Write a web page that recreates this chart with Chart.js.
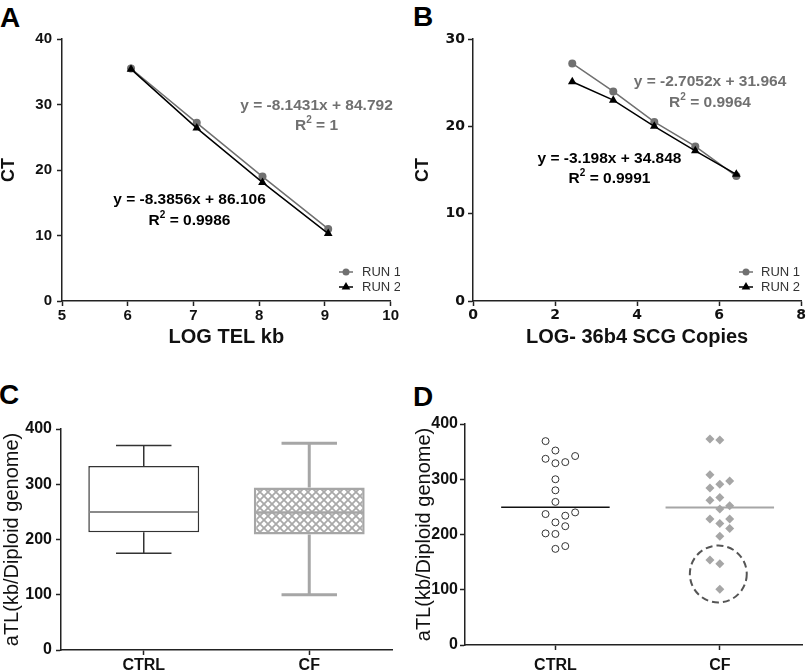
<!DOCTYPE html>
<html>
<head>
<meta charset="utf-8">
<script src="https://cdn.jsdelivr.net/npm/chart.js@4.4.1/dist/chart.umd.min.js"></script>
<style>
  html, body { margin: 0; padding: 0; background: #fff; }
  body { width: 807px; height: 672px; position: relative; overflow: hidden;
         font-family: 'Liberation Sans', Arial, Helvetica, sans-serif; }
  .panel { position: absolute; }
  .panel canvas { display: block; }
  .lbl { position: absolute; font-weight: bold; font-size: 28px; line-height: 28px; color: #000; }
</style>
</head>
<body>
<div class="lbl" style="left:0px;top:4px">A</div>
<div class="lbl" style="left:413px;top:3px">B</div>
<div class="lbl" style="left:-1px;top:381px">C</div>
<div class="lbl" style="left:413px;top:383px">D</div>

<div class="panel" style="left:0;top:0"><canvas id="cA" width="400" height="348"></canvas></div>
<div class="panel" style="left:400px;top:0"><canvas id="cB" width="407" height="348"></canvas></div>
<div class="panel" style="left:0;top:360px"><canvas id="cC" width="400" height="312"></canvas></div>
<div class="panel" style="left:400px;top:360px"><canvas id="cD" width="407" height="312"></canvas></div>

<script>
// ---------------- DATA ----------------
const seriesLabels = ['RUN 1', 'RUN 2'];

// Panel A : telomere standard curve
const telLogKb  = [6.05, 7.05, 8.05, 9.05];
const telRun1Ct = [35.5, 27.2, 19.0, 11.0];
const telRun2Ct = [35.4, 26.4, 18.1, 10.3];
const telEq1 = 'y = -8.1431x + 84.792', telR2_1 = '1';
const telEq2 = 'y = -8.3856x + 86.106', telR2_2 = '0.9986';

// Panel B : 36b4 single copy gene standard curve
const scgLogCopies = [2.42, 3.42, 4.42, 5.42, 6.42];
const scgRun1Ct = [27.2, 24.0, 20.5, 17.7, 14.3];
const scgRun2Ct = [25.1, 23.0, 20.0, 17.2, 14.5];
const scgEq1 = 'y = -2.7052x + 31.964', scgR2_1 = '0.9964';
const scgEq2 = 'y = -3.198x + 34.848',  scgR2_2 = '0.9991';

// Panel C : box plot summary
const groups = ['CTRL', 'CF'];
const boxMin    = [175, 100];
const boxQ1     = [213, 209];
const boxMedian = [250, 249];
const boxQ3     = [333, 294];
const boxMax    = [370, 374];

// Panel D : individual aTL values (kb / diploid genome)
const ctrlTL   = [369, 352, 342, 337, 331, 329, 300, 280, 259, 240, 237, 234, 222, 215, 202, 201, 179, 174];
const ctrlSlot = [ -1,   0,   2,  -1,   1,   0,   0,   0,   0,   2,  -1,   1,   0,   1,  -1,   0,   1,   0];
const cfTL     = [373, 371, 308, 297, 291, 284, 267, 262, 252, 246, 228, 228, 220, 211, 197, 154, 147, 101];
const cfSlot   = [ -1,   0,  -1,   1,   0,  -1,   0,  -1,   1,   0,  -1,   1,   0,   1,   0,  -1,   0,   0];
const circledRange = [77, 180];   // CF values highlighted by dashed circle

// ---------------- STYLE ----------------
const FONT = "'Liberation Sans', Arial, Helvetica, sans-serif";
const WIDE = "'DejaVu Sans', 'Liberation Sans', Arial, sans-serif";
Chart.defaults.font.family = FONT;
Chart.defaults.color = '#111';
Chart.defaults.animation = false;
Chart.defaults.events = [];
Chart.defaults.plugins.legend.display = false;
Chart.defaults.plugins.tooltip.enabled = false;

const AX = '#222';
const GRAY = '#707070';
const LGRAY = '#a6a6a6';

function axisCommon(tickSize, tickPad, fam) {
  return {
    border: { display: true, color: AX, width: 1.5 },
    grid: { display: true, drawOnChartArea: false, drawTicks: true, tickLength: 5, tickWidth: 1.5, tickColor: AX },
    ticks: { font: { size: tickSize, weight: 'bold', family: fam || FONT }, color: '#111', padding: tickPad, maxRotation: 0, autoSkip: false }
  };
}
function yAxis(min, max, step, width, title, tFont, tPad, tickSize, tickPad, fam) {
  const a = axisCommon(tickSize, tickPad, fam);
  a.type = 'linear'; a.min = min; a.max = max; a.ticks.stepSize = step;
  a.title = { display: true, text: title, font: tFont, color: '#111', padding: { top: tPad, bottom: 0 } };
  a.afterFit = s => { s.width = width; };
  return a;
}
function xLinear(min, max, step, height, title, tickSize, tickPad, fam) {
  const a = axisCommon(tickSize, tickPad, fam);
  a.type = 'linear'; a.position = 'bottom'; a.min = min; a.max = max; a.ticks.stepSize = step;
  a.title = title ? { display: true, text: title, font: { size: 20, weight: 'bold', lineHeight: 1 }, color: '#111', padding: { top: 0, bottom: 1 } }
                  : { display: false };
  a.afterFit = s => { s.height = height; };
  return a;
}

function drawMarker(ctx, style, x, y, r, color) {
  ctx.fillStyle = color;
  ctx.beginPath();
  if (style === 'triangle') {
    let rad = 0;
    ctx.moveTo(x + Math.sin(rad) * r, y - Math.cos(rad) * r);
    rad += 2 * Math.PI / 3; ctx.lineTo(x + Math.sin(rad) * r, y - Math.cos(rad) * r);
    rad += 2 * Math.PI / 3; ctx.lineTo(x + Math.sin(rad) * r, y - Math.cos(rad) * r);
    ctx.closePath();
  } else {
    ctx.arc(x, y, r, 0, Math.PI * 2);
  }
  ctx.fill();
}

// rich text (with superscript) annotations, centered at cx, baseline y
function textPlugin(items) {
  return {
    id: 'eqText',
    afterDraw(chart) {
      const ctx = chart.ctx;
      ctx.save();
      items.forEach(it => {
        const main = `bold ${it.size}px ${FONT}`;
        const sup = `bold ${Math.round(it.size * 0.62)}px ${FONT}`;
        let w = 0;
        it.parts.forEach(p => { ctx.font = p.sup ? sup : main; w += ctx.measureText(p.t).width; });
        let x = it.x - w / 2;
        ctx.fillStyle = it.color; ctx.textBaseline = 'alphabetic'; ctx.textAlign = 'left';
        it.parts.forEach(p => {
          ctx.font = p.sup ? sup : main;
          ctx.fillText(p.t, x, p.sup ? it.y - it.size * 0.42 : it.y);
          x += ctx.measureText(p.t).width;
        });
      });
      ctx.restore();
    }
  };
}
function eqItems(eq, r2, cx, y1, y2, color) {
  return [
    { parts: [{ t: eq }], x: cx, y: y1, size: 15.5, color },
    { parts: [{ t: 'R' }, { t: '2', sup: true }, { t: ' = ' + r2 }], x: cx, y: y2, size: 15.5, color }
  ];
}

function legendPlugin(cx, cy, gap, textX) {
  return {
    id: 'runLegend',
    afterDraw(chart) {
      const ctx = chart.ctx;
      ctx.save();
      chart.data.datasets.forEach((ds, i) => {
        const y = cy + i * gap;
        ctx.strokeStyle = ds.borderColor; ctx.lineWidth = 1.5;
        ctx.beginPath(); ctx.moveTo(cx - 7, y); ctx.lineTo(cx + 7, y); ctx.stroke();
        drawMarker(ctx, ds.pointStyle, cx, y, ds.pointStyle === 'triangle' ? 5 : 3.5, ds.backgroundColor);
        ctx.fillStyle = '#333'; ctx.font = `13px ${FONT}`;
        ctx.textBaseline = 'middle'; ctx.textAlign = 'left';
        ctx.fillText(ds.label, textX, y + 0.5);
      });
      ctx.restore();
    }
  };
}

function runDatasets(xs, r1, r2) {
  return [
    { label: seriesLabels[0], data: xs.map((x, i) => ({ x, y: r1[i] })), showLine: true,
      borderColor: GRAY, backgroundColor: GRAY, borderWidth: 1.5,
      pointStyle: 'circle', pointRadius: 4, pointBorderWidth: 0, order: 1 },
    { label: seriesLabels[1], data: xs.map((x, i) => ({ x, y: r2[i] })), showLine: true,
      borderColor: '#000', backgroundColor: '#000', borderWidth: 1.5,
      pointStyle: 'triangle', pointRadius: 5, pointBorderWidth: 0, order: 0 }
  ];
}

// ---------------- PANEL A ----------------
new Chart(document.getElementById('cA'), {
  type: 'scatter',
  data: { datasets: runDatasets(telLogKb, telRun1Ct, telRun2Ct) },
  options: {
    responsive: false,
    layout: { padding: { left: 0, top: 39, right: 8, bottom: 0 } },
    scales: {
      x: xLinear(5, 10, 1, 47, 'LOG TEL kb', 15, 1),
      y: yAxis(0, 40, 10, 62, 'CT', { size: 18, weight: 'bold', lineHeight: 1 }, 0, 15, 5)
    }
  },
  plugins: [
    textPlugin([...eqItems(telEq1, telR2_1, 316.5, 109.5, 129.5, GRAY),
                ...eqItems(telEq2, telR2_2, 189.5, 204, 225, '#000')]),
    legendPlugin(346, 272, 15, 362)
  ]
});

// ---------------- PANEL B ----------------
new Chart(document.getElementById('cB'), {
  type: 'scatter',
  data: { datasets: runDatasets(scgLogCopies, scgRun1Ct, scgRun2Ct) },
  options: {
    responsive: false,
    layout: { padding: { left: 0, top: 39, right: 4, bottom: 0 } },
    scales: {
      x: xLinear(0, 8, 2, 47, 'LOG- 36b4 SCG Copies', 14, 1, WIDE),
      y: yAxis(0, 30, 10, 73, 'CT', { size: 18, weight: 'bold', lineHeight: 1 }, 14, 14, 3, WIDE)
    }
  },
  plugins: [
    textPlugin([...eqItems(scgEq1, scgR2_1, 310, 86, 106.5, GRAY),
                ...eqItems(scgEq2, scgR2_2, 209.5, 163, 183, '#000')]),
    legendPlugin(346, 272, 15, 361)
  ]
});

// ---------------- PANEL C ----------------
function hatchPattern() {
  const c = document.createElement('canvas');
  c.width = 8; c.height = 8;
  const g = c.getContext('2d');
  g.fillStyle = '#fff'; g.fillRect(0, 0, 8, 8);
  g.strokeStyle = '#a9a9a9'; g.lineWidth = 1.8;
  g.beginPath();
  g.moveTo(-1, -1); g.lineTo(9, 9);
  g.moveTo(9, -1); g.lineTo(-1, 9);
  g.stroke();
  return g.createPattern(c, 'repeat');
}
const boxStyles = [
  { color: '#333', width: 1.5, median: '#8a8a8a', medianWidth: 2 },
  { color: LGRAY, width: 3, median: LGRAY, medianWidth: 2.5 }
];
const whiskerPlugin = {
  id: 'whiskers',
  afterDatasetsDraw(chart) {
    const ctx = chart.ctx, ys = chart.scales.y;
    chart.getDatasetMeta(0).data.forEach((bar, i) => {
      const x = bar.x, w = bar.width, st = boxStyles[i];
      const pMax = ys.getPixelForValue(boxMax[i]), pMin = ys.getPixelForValue(boxMin[i]);
      const pQ1 = ys.getPixelForValue(boxQ1[i]), pQ3 = ys.getPixelForValue(boxQ3[i]);
      const pMed = ys.getPixelForValue(boxMedian[i]);
      ctx.save();
      ctx.strokeStyle = st.color; ctx.lineWidth = st.width;
      ctx.beginPath();
      ctx.moveTo(x, pQ3); ctx.lineTo(x, pMax);
      ctx.moveTo(x, pQ1); ctx.lineTo(x, pMin);
      ctx.moveTo(x - w / 4, pMax); ctx.lineTo(x + w / 4, pMax);
      ctx.moveTo(x - w / 4, pMin); ctx.lineTo(x + w / 4, pMin);
      ctx.stroke();
      ctx.strokeStyle = st.median; ctx.lineWidth = st.medianWidth;
      ctx.beginPath(); ctx.moveTo(x - w / 2 + 1, pMed); ctx.lineTo(x + w / 2 - 1, pMed); ctx.stroke();
      ctx.restore();
    });
  }
};
const cxAxis = axisCommon(16, 1);
cxAxis.type = 'category'; cxAxis.position = 'bottom';
cxAxis.grid.offset = false;
cxAxis.afterFit = s => { s.height = 22; };

new Chart(document.getElementById('cC'), {
  type: 'bar',
  data: {
    labels: groups,
    datasets: [{
      data: groups.map((g, i) => [boxQ1[i], boxQ3[i]]),
      backgroundColor: ['#ffffff', hatchPattern()],
      borderColor: [boxStyles[0].color, boxStyles[1].color],
      borderWidth: [1.5, 2.5],
      borderSkipped: false,
      barPercentage: 0.67,
      categoryPercentage: 1
    }]
  },
  options: {
    responsive: false,
    layout: { padding: { left: 0, top: 69, right: 8, bottom: 0 } },
    scales: {
      x: cxAxis,
      y: yAxis(0, 400, 100, 61, 'aTL(kb/Diploid genome)', { size: 20, weight: 'normal', lineHeight: 1 }, 2, 16, 4)
    }
  },
  plugins: [whiskerPlugin]
});

// ---------------- PANEL D ----------------
const median = a => { const s = [...a].sort((p, q) => p - q), n = s.length; return n % 2 ? s[(n - 1) / 2] : (s[n / 2 - 1] + s[n / 2]) / 2; };
const slotStep = 0.06, medHalf = 0.33;
const ctrlMed = median(ctrlTL), cfMed = median(cfTL);

const circlePlugin = {
  id: 'dashCircle',
  afterDatasetsDraw(chart) {
    const ctx = chart.ctx, xs = chart.scales.x, ys = chart.scales.y;
    const cx = xs.getPixelForValue(2) - 1.5;
    const top = ys.getPixelForValue(circledRange[1]), bot = ys.getPixelForValue(circledRange[0]);
    const r = (bot - top) / 2, cy = (top + bot) / 2;
    ctx.save();
    ctx.strokeStyle = '#555'; ctx.lineWidth = 2; ctx.setLineDash([7, 4]);
    ctx.beginPath(); ctx.arc(cx, cy, r, 0, Math.PI * 2); ctx.stroke();
    ctx.restore();
  }
};
const dxAxis = xLinear(0.45, 2.5, 1, 27, null, 16, 6);
dxAxis.afterBuildTicks = s => { s.ticks = [{ value: 1 }, { value: 2 }]; };
dxAxis.ticks.callback = v => groups[Math.round(v) - 1];

new Chart(document.getElementById('cD'), {
  type: 'scatter',
  data: {
    datasets: [
      { data: ctrlTL.map((v, i) => ({ x: 1 + ctrlSlot[i] * slotStep, y: v })),
        pointStyle: 'circle', pointRadius: 3.5, pointBorderWidth: 1,
        borderColor: '#333', backgroundColor: '#fff', order: 1 },
      { data: cfTL.map((v, i) => ({ x: 2 + cfSlot[i] * slotStep, y: v })),
        pointStyle: 'rectRot', pointRadius: 4.5, pointBorderWidth: 0,
        borderColor: LGRAY, backgroundColor: LGRAY, order: 1 },
      { type: 'line', data: [{ x: 1 - medHalf, y: ctrlMed }, { x: 1 + medHalf, y: ctrlMed }],
        borderColor: '#111', borderWidth: 1.5, pointRadius: 0, order: 2 },
      { type: 'line', data: [{ x: 2 - medHalf, y: cfMed }, { x: 2 + medHalf, y: cfMed }],
        borderColor: LGRAY, borderWidth: 2, pointRadius: 0, order: 2 }
    ]
  },
  options: {
    responsive: false,
    layout: { padding: { left: 0, top: 64, right: 2, bottom: 0 } },
    scales: {
      x: dxAxis,
      y: yAxis(0, 400, 100, 65, 'aTL(kb/Diploid genome)', { size: 20, weight: 'normal', lineHeight: 1 }, 14, 16, 2)
    }
  },
  plugins: [circlePlugin]
});
</script>
</body>
</html>
